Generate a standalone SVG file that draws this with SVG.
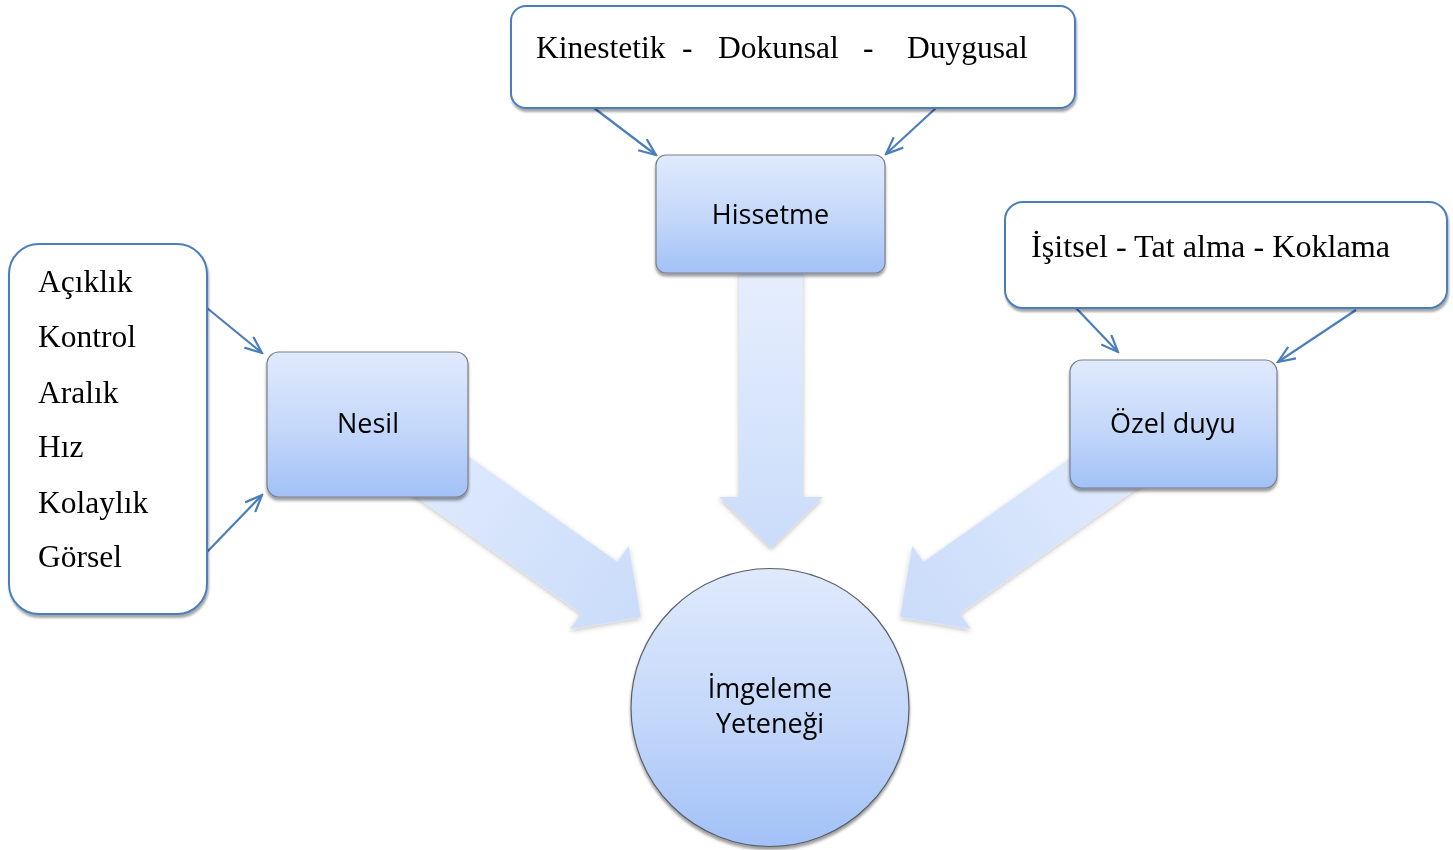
<svg xmlns="http://www.w3.org/2000/svg" width="1453" height="850" viewBox="0 0 1453 850">
<defs>
<linearGradient id="nodeGrad" x1="0" y1="0" x2="0" y2="1">
<stop offset="0" stop-color="#e0eafc"/>
<stop offset="0.55" stop-color="#c3d7fa"/>
<stop offset="1" stop-color="#a2c1f7"/>
</linearGradient>
<linearGradient id="arrowGrad" x1="0" y1="0" x2="0" y2="1">
<stop offset="0" stop-color="#e6eefd"/>
<stop offset="1" stop-color="#cadcfa"/>
</linearGradient>
<linearGradient id="arrowGradDiag" x1="0" y1="0" x2="1" y2="0">
<stop offset="0" stop-color="#e4edfd"/>
<stop offset="1" stop-color="#cadcfa"/>
</linearGradient>
<filter id="soft" x="-20%" y="-20%" width="140%" height="140%">
<feDropShadow dx="0" dy="2" stdDeviation="2.5" flood-color="#000" flood-opacity="0.25"/>
</filter>
<filter id="boxShadow" x="-10%" y="-10%" width="120%" height="130%">
<feDropShadow dx="0" dy="3" stdDeviation="1.5" flood-color="#000" flood-opacity="0.4"/>
</filter>
<filter id="calloutShadow" x="-10%" y="-10%" width="120%" height="130%">
<feDropShadow dx="1" dy="3" stdDeviation="1" flood-color="#000" flood-opacity="0.35"/>
</filter>
<marker id="vhead" viewBox="0 0 20 16" refX="18" refY="8" markerWidth="20" markerHeight="16" markerUnits="userSpaceOnUse" orient="auto">
<path d="M1,1 L18,8 L1,15" fill="none" stroke="#4a7ebb" stroke-width="2.2"/>
</marker>
</defs>
<style>
.callout{fill:#ffffff;stroke:#4a7ebb;stroke-width:2;}
.node{fill:url(#nodeGrad);stroke:#7a7f88;stroke-width:1.2;}
.block{fill:url(#arrowGrad);stroke:none;}
.blockd{fill:url(#arrowGradDiag);stroke:none;}
.serif{font-family:"Liberation Serif","Times New Roman",serif;font-size:31.5px;fill:#000;}
.sans{font-family:"Open Sans","Liberation Sans",sans-serif;font-size:27px;fill:#000;text-anchor:middle;}
.conn{stroke:#4a7ebb;stroke-width:2.2;fill:none;marker-end:url(#vhead);}
</style>
<rect width="1453" height="850" fill="#ffffff"/>

<g id="block-arrows" filter="url(#soft)">
<path class="block" d="M739,273 L803,273 L803,497 L823,497 L771,548 L719,497 L739,497 Z"/>
<g transform="translate(368,424) rotate(35.26)">
<path class="blockd" d="M0,-31.5 L283.3,-31.5 L283.3,-51 L334.3,0 L283.3,51 L283.3,31.5 L0,31.5 Z"/>
</g>
<g transform="translate(1173,424) rotate(144.74)">
<path class="blockd" d="M0,-31.5 L283.3,-31.5 L283.3,-51 L334.3,0 L283.3,51 L283.3,31.5 L0,31.5 Z"/>
</g>
</g>

<g id="connectors">
<line class="conn" x1="594" y1="108" x2="656" y2="155"/>
<line class="conn" x1="936" y1="108" x2="886" y2="154"/>
<line class="conn" x1="207" y1="308" x2="262" y2="353"/>
<line class="conn" x1="207" y1="552" x2="262" y2="495"/>
<line class="conn" x1="1076" y1="308" x2="1118" y2="352"/>
<line class="conn" x1="1356" y1="310" x2="1278" y2="362"/>
</g>

<g id="callout-top">
<rect class="callout" x="511" y="6" width="564" height="102" rx="15" filter="url(#calloutShadow)"/>
<text class="serif" y="58"><tspan x="536">Kinestetik</tspan><tspan x="682">-</tspan><tspan x="718">Dokunsal</tspan><tspan x="863">-</tspan><tspan x="907">Duygusal</tspan></text>
</g>

<g id="callout-left">
<rect class="callout" x="9" y="244" width="198" height="370" rx="30" filter="url(#calloutShadow)"/>
<text class="serif" x="38" y="292">Açıklık</text>
<text class="serif" x="38" y="347">Kontrol</text>
<text class="serif" x="38" y="403">Aralık</text>
<text class="serif" x="38" y="457">Hız</text>
<text class="serif" x="38" y="513">Kolaylık</text>
<text class="serif" x="38" y="567">Görsel</text>
</g>

<g id="callout-right">
<rect class="callout" x="1005" y="202" width="442" height="106" rx="18" filter="url(#calloutShadow)"/>
<text class="serif" x="1031" y="257" style="font-size:32.2px">İşitsel - Tat alma - Koklama</text>
</g>

<g id="node-hissetme">
<rect class="node" x="656" y="155" width="229" height="118" rx="10" filter="url(#boxShadow)"/>
<text class="sans" x="770.5" y="224">Hissetme</text>
</g>

<g id="node-nesil">
<rect class="node" x="267" y="352" width="201" height="145" rx="12" filter="url(#boxShadow)"/>
<text class="sans" x="368" y="433">Nesil</text>
</g>

<g id="node-ozel-duyu">
<rect class="node" x="1070" y="360" width="207" height="128" rx="12" filter="url(#boxShadow)"/>
<text class="sans" x="1173" y="433">Özel duyu</text>
</g>

<g id="node-imgeleme">
<circle cx="770" cy="707.5" r="139" fill="url(#nodeGrad)" stroke="#5a5f66" stroke-width="1.2" filter="url(#boxShadow)"/>
<text class="sans" x="770" y="698">İmgeleme</text>
<text class="sans" x="770" y="733">Yeteneği</text>
</g>
</svg>
